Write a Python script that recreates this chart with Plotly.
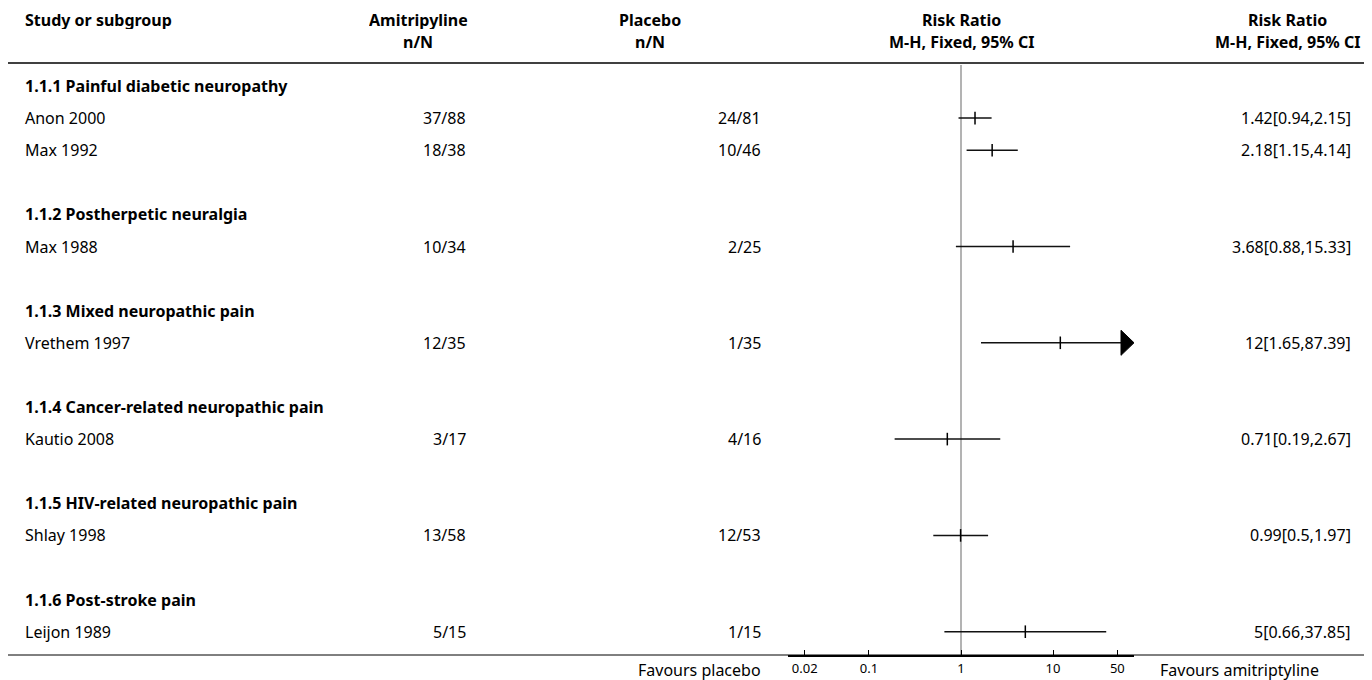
import plotly.graph_objects as go

# ---------------- data ----------------
subgroups = [
    "1.1.1 Painful diabetic neuropathy",
    "1.1.2 Postherpetic neuralgia",
    "1.1.3 Mixed neuropathic pain",
    "1.1.4 Cancer-related neuropathic pain",
    "1.1.5 HIV-related neuropathic pain",
    "1.1.6 Post-stroke pain",
]
studies = ["Anon 2000", "Max 1992", "Max 1988", "Vrethem 1997",
           "Kautio 2008", "Shlay 1998", "Leijon 1989"]
study_group = [0, 0, 1, 2, 3, 4, 5]
amitriptyline_nN = ["37/88", "18/38", "10/34", "12/35", "3/17", "13/58", "5/15"]
placebo_nN = ["24/81", "10/46", "2/25", "1/35", "4/16", "12/53", "1/15"]
risk_ratio = [1.42, 2.18, 3.68, 12, 0.71, 0.99, 5]
ci_low = [0.94, 1.15, 0.88, 1.65, 0.19, 0.5, 0.66]
ci_high = [2.15, 4.14, 15.33, 87.39, 2.67, 1.97, 37.85]
tick_vals = [0.02, 0.1, 1, 10, 50]
tick_text = ["0.02", "0.1", "1", "10", "50"]
favours_left = "Favours placebo"
favours_right = "Favours amitriptyline"

# ---------------- layout constants (page pixels) ----------------
W, H = 1372, 680
OFF = 8                      # page body margin
FONT = "Noto Sans, Open Sans, sans-serif"
FS = 16
LOG_RANGE = [-1.88, 1.88]
AXIS_PX = 655                # page pixel row of x axis line
ROW0_PX, ROW_PITCH = 86, 32.1


def px_x(p):
    return (p - OFF) / W


def px_y(p):
    return 1 - (p - OFF) / H


def row_of(p):
    return (p - ROW0_PX) / ROW_PITCH


X_DOM = [px_x(788), px_x(1134)]
Y_DOM = [px_y(AXIS_PX), 1]
Y_RANGE = [row_of(AXIS_PX), row_of(OFF)]

# build rows: subgroup header, studies, blank
rows = []
for g, name in enumerate(subgroups):
    if g > 0:
        rows.append(("blank", None))
    rows.append(("header", name))
    for s in range(len(studies)):
        if study_group[s] == g:
            rows.append(("study", s))

fig = go.Figure()

# reference vertical line at RR = 1
fig.add_trace(go.Scatter(x=[1, 1], y=[row_of(65), Y_RANGE[0]], mode="lines",
                         line=dict(color="#9a9a9a", width=1.5),
                         hoverinfo="skip", showlegend=False))

xmax = 10 ** LOG_RANGE[1]
arrow_len = 10 ** (13 / 92)   # arrow head length (multiplicative)

txt_font = dict(size=FS, family=FONT, color="#000")
annotations = []
for i, (kind, payload) in enumerate(rows):
    if kind == "header":
        annotations.append(dict(x=px_x(23), y=i, xref="paper", yref="y",
                                text="<b>%s</b>" % payload, showarrow=False,
                                xanchor="left", yanchor="middle", font=txt_font))
    elif kind == "study":
        s = payload
        annotations.append(dict(x=px_x(23), y=i, xref="paper", yref="y",
                                text=studies[s], showarrow=False,
                                xanchor="left", yanchor="middle", font=txt_font))
        annotations.append(dict(x=px_x(468), y=i, xref="paper", yref="y",
                                text=amitriptyline_nN[s], showarrow=False,
                                xanchor="right", yanchor="middle", font=txt_font))
        annotations.append(dict(x=px_x(763), y=i, xref="paper", yref="y",
                                text=placebo_nN[s], showarrow=False,
                                xanchor="right", yanchor="middle", font=txt_font))
        annotations.append(dict(x=px_x(1353), y=i, xref="paper", yref="y",
                                text="%g[%g,%g]" % (risk_ratio[s], ci_low[s], ci_high[s]),
                                showarrow=False, xanchor="right", yanchor="middle",
                                font=txt_font))
        hi = ci_high[s]
        clipped = hi > xmax
        end = xmax / arrow_len if clipped else hi
        fig.add_trace(go.Scatter(x=[ci_low[s], end], y=[i, i], mode="lines",
                                 line=dict(color="#111", width=1.5),
                                 hoverinfo="skip", showlegend=False))
        if clipped:
            fig.add_trace(go.Scatter(x=[end, end, xmax, end],
                                     y=[i - 0.39, i + 0.39, i, i - 0.39],
                                     mode="lines", fill="toself", fillcolor="#000",
                                     line=dict(color="#000", width=1),
                                     hoverinfo="skip", showlegend=False))
        fig.add_trace(go.Scatter(x=[risk_ratio[s]], y=[i], mode="markers",
                                 marker=dict(symbol="line-ns-open", size=9, color="#000",
                                             line=dict(color="#000", width=1.5)),
                                 hoverinfo="skip", showlegend=False))

# column headers
hdr = [
    ("Study or subgroup", 23, "left"),
    ("Amitripyline", 418, "center"),
    ("Placebo", 650, "center"),
    ("Risk Ratio", 961, "center"),
    ("Risk Ratio", 1287, "center"),
]
hdr2 = [
    ("n/N", 418), ("n/N", 650), ("M-H, Fixed, 95% CI", 961), ("M-H, Fixed, 95% CI", 1287),
]
for t, x, anc in hdr:
    annotations.append(dict(x=px_x(x), y=px_y(OFF), xref="paper", yref="paper",
                            text="<b>%s</b>" % t, showarrow=False, xanchor=anc,
                            yanchor="top", height=19, valign="middle", font=txt_font))
for t, x in hdr2:
    annotations.append(dict(x=px_x(x), y=px_y(42), xref="paper", yref="paper",
                            text="<b>%s</b>" % t, showarrow=False, xanchor="center",
                            yanchor="middle", font=txt_font))

annotations.append(dict(x=px_x(763), y=px_y(670), xref="paper", yref="paper",
                        text=favours_left, showarrow=False, xanchor="right",
                        yanchor="middle", font=txt_font))
annotations.append(dict(x=px_x(1158), y=px_y(670), xref="paper", yref="paper",
                        text=favours_right, showarrow=False, xanchor="left",
                        yanchor="middle", font=txt_font))

shapes = [
    dict(type="line", xref="paper", yref="paper", x0=px_x(8), x1=px_x(1364),
         y0=px_y(63), y1=px_y(63), line=dict(color="#000", width=1.5)),
    dict(type="line", xref="paper", yref="paper", x0=px_x(8), x1=px_x(1364),
         y0=px_y(AXIS_PX), y1=px_y(AXIS_PX), line=dict(color="#000", width=1)),
]

fig.update_layout(
    width=W, height=H,
    margin=dict(l=0, r=0, t=0, b=0),
    paper_bgcolor="white", plot_bgcolor="white",
    showlegend=False,
    annotations=annotations,
    shapes=shapes,
    xaxis=dict(type="log", range=LOG_RANGE, domain=X_DOM,
               showgrid=False, zeroline=False,
               showline=True, linecolor="#000", linewidth=2,
               ticks="inside", ticklen=5, tickwidth=1, tickcolor="#000",
               tickvals=tick_vals, ticktext=tick_text,
               tickfont=dict(size=13, family=FONT, color="#000"),
               fixedrange=True),
    yaxis=dict(range=Y_RANGE, domain=Y_DOM,
               visible=False, showgrid=False, zeroline=False, fixedrange=True),
)

fig.write_html("out.html")
